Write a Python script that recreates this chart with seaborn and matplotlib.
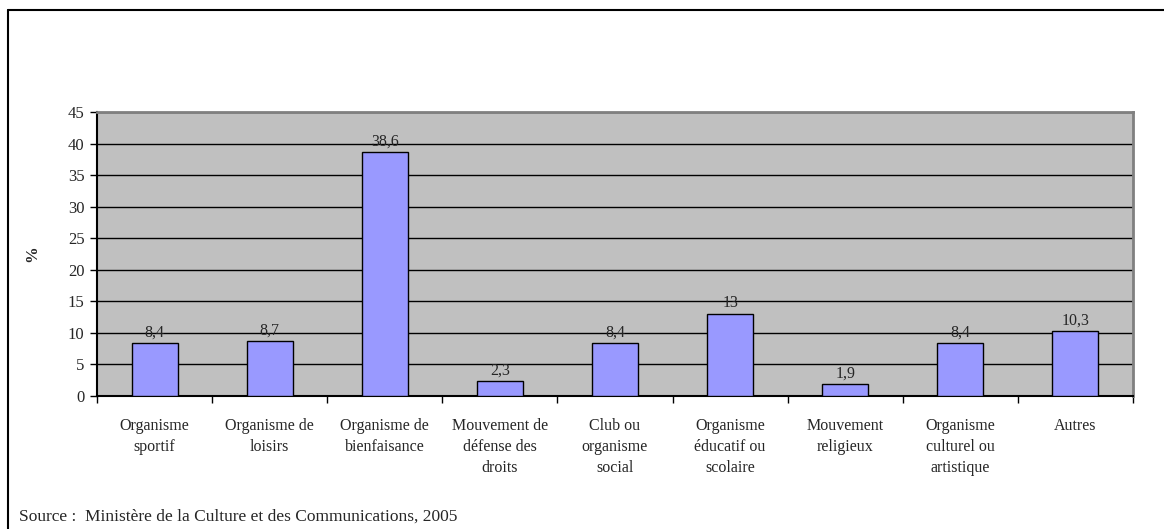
import seaborn as sns
import numpy as np
import pandas as pd
import matplotlib.pyplot as plt
from matplotlib.lines import Line2D

categories = ["Organisme\nsportif", "Organisme de\nloisirs", "Organisme de\nbienfaisance",
              "Mouvement de\ndéfense des\ndroits", "Club ou\norganisme\nsocial",
              "Organisme\néducatif ou\nscolaire", "Mouvement\nreligieux",
              "Organisme\nculturel ou\nartistique", "Autres"]
values = [8.4, 8.7, 38.6, 2.3, 8.4, 13, 1.9, 8.4, 10.3]
yticks = [0, 5, 10, 15, 20, 25, 30, 35, 40, 45]

sns.set_style("white")
plt.rcParams['font.family'] = ['Liberation Serif', 'DejaVu Serif']

df = pd.DataFrame({'cat': categories, 'val': values})

fig = plt.figure(figsize=(11.64, 5.29), dpi=100)
ax = fig.add_axes([97/1164, 1-396/529, (1133-97)/1164, (396-112)/529])
ax.set_facecolor('#C0C0C0')

sns.barplot(data=df, x='cat', y='val', color='#9999FF', edgecolor='black',
            linewidth=1, width=0.4, saturation=1, ax=ax, zorder=3)

ax.set_ylim(0, 45)
ax.set_xlim(-0.5, len(categories) - 0.5)
ax.set_yticks(yticks)
ax.yaxis.grid(True, color='black', linewidth=1, zorder=0)
ax.set_axisbelow(True)

labels = [str(v).replace('.', ',') for v in values]
ax.bar_label(ax.containers[0], labels=labels, padding=2, fontsize=11.5)

ax.set_xticks(np.arange(len(categories)))
ax.set_xticklabels(categories, fontsize=11.5, linespacing=1.42)
ax.set_xticks(np.arange(len(categories) + 1) - 0.5, minor=True)
ax.tick_params(axis='x', which='major', length=0, pad=16)
ax.tick_params(axis='x', which='minor', length=5, width=1, color='black', direction='out', bottom=True)
ax.tick_params(axis='y', length=5, width=1, color='black', direction='out', left=True, labelsize=12, pad=4)

ax.set_xlabel('')
ax.set_ylabel('%', fontsize=12, fontweight='bold', labelpad=20)

for s in ['left', 'bottom']:
    ax.spines[s].set_color('black')
    ax.spines[s].set_linewidth(1.5)
for s in ['top', 'right']:
    ax.spines[s].set_color('#808080')
    ax.spines[s].set_linewidth(2)
    ax.spines[s].set_visible(True)

# outer frame (cropped at right and bottom)
fig.add_artist(Line2D([8/1164, 1], [1-10/529, 1-10/529], color='black', lw=1.5, transform=fig.transFigure))
fig.add_artist(Line2D([8/1164, 8/1164], [0, 1-10/529], color='black', lw=1.5, transform=fig.transFigure))

fig.text(19/1164, 1-517/529, "Source :  Ministère de la Culture et des Communications, 2005",
         fontsize=12.5, va='center', ha='left')

fig.savefig('out.png', dpi=100)
